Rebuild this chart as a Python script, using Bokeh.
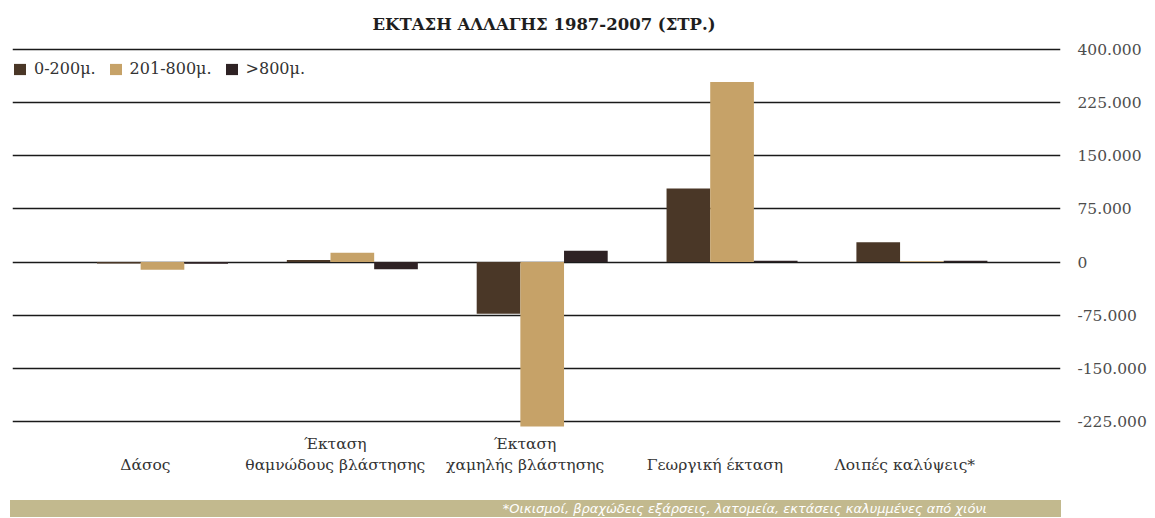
from bokeh.plotting import figure
from bokeh.models import ColumnDataSource, Range1d, FixedTicker, Legend, LegendItem, Div
from bokeh.layouts import column
from bokeh.transform import dodge
from bokeh.embed import file_html
from bokeh.resources import INLINE

# ---------------- data ----------------
categories = ["\nΔάσος", "Έκταση\nθαμνώδους βλάστησης", "Έκταση\nχαμηλής βλάστησης",
              "\nΓεωργική έκταση", "\nΛοιπές καλύψεις*"]
series_names = ["0-200μ.", "201-800μ.", ">800μ."]
v_0_200 = [-2000, 3000, -73000, 104000, 28000]
v_201_800 = [-11000, 13000, -232000, 254000, 1000]
v_800 = [-2500, -10000, 16000, 2000, 2000]
y_ticks = [300000, 225000, 150000, 75000, 0, -75000, -150000, -225000]
y_labels = ["400.000", "225.000", "150.000", "75.000", "0", "-75.000", "-150.000", "-225.000"]
title_text = "ΕΚΤΑΣΗ ΑΛΛΑΓΗΣ 1987-2007 (ΣΤΡ.)"
footnote = "*Οικισμοί, βραχώδεις εξάρσεις, λατομεία, εκτάσεις καλυμμένες από χιόνι"

colors = ["#4a3727", "#c6a268", "#2e2224"]
SERIF = "DejaVu Serif"

xi = list(range(len(categories)))
src = ColumnDataSource(dict(x=xi, a=v_0_200, b=v_201_800, c=v_800))

p = figure(width=1150, height=500, output_backend="svg", toolbar_location=None,
           x_range=Range1d(-0.79, 4.73), y_range=Range1d(-237700, 312700),
           y_axis_location="right",
           min_border_left=12, min_border_right=90, min_border_top=40, min_border_bottom=70)
p.outline_line_color = None
p.background_fill_color = "white"
p.border_fill_color = "white"

p.title.text = title_text
p.title.text_font = SERIF
p.title.text_font_style = "bold"
p.title.text_font_size = "16.5px"
p.title.text_color = "#1e1e1e"
p.title.align = "left"
p.title.offset = 360
p.title.standoff = 14

w = 0.23
r1 = p.vbar(x=dodge("x", -w, range=p.x_range), top="a", bottom=0, width=w, source=src,
            fill_color=colors[0], line_color=None)
r2 = p.vbar(x=dodge("x", 0, range=p.x_range), top="b", bottom=0, width=w, source=src,
            fill_color=colors[1], line_color=None)
r3 = p.vbar(x=dodge("x", w, range=p.x_range), top="c", bottom=0, width=w, source=src,
            fill_color=colors[2], line_color=None)

# y axis (right)
yax = p.yaxis[0]
yax.ticker = FixedTicker(ticks=y_ticks)
yax.major_label_overrides = dict(zip(y_ticks, y_labels))
yax.axis_line_color = None
yax.major_tick_line_color = None
yax.minor_tick_line_color = None
yax.major_label_standoff = 11
yax.major_label_text_font = SERIF
yax.major_label_text_font_size = "15.5px"
yax.major_label_text_color = "#4d4d4d"

p.ygrid.ticker = FixedTicker(ticks=y_ticks)
p.ygrid.grid_line_color = "#1a1a1a"
p.ygrid.grid_line_width = 1.6
p.xgrid.grid_line_color = None

# x axis (categories)
xt = [i - 0.09 for i in xi]
xax = p.xaxis[0]
xax.ticker = FixedTicker(ticks=xt)
xax.major_label_overrides = dict(zip(xt, categories))
xax.axis_line_color = None
xax.major_tick_line_color = None
xax.minor_tick_line_color = None
xax.major_label_standoff = -2
xax.major_label_text_font = SERIF
xax.major_label_text_font_size = "15.5px"
xax.major_label_text_color = "#333333"

legend = Legend(items=[LegendItem(label=series_names[0], renderers=[r1]),
                       LegendItem(label=series_names[1], renderers=[r2]),
                       LegendItem(label=series_names[2], renderers=[r3])],
                orientation="horizontal", location=(0, 352))
legend.glyph_width = 15
legend.glyph_height = 14
legend.label_standoff = 7
legend.spacing = 12
legend.padding = 0
legend.margin = 0
legend.border_line_color = None
legend.background_fill_alpha = 0
legend.label_text_font = SERIF
legend.label_text_font_size = "16px"
legend.label_text_color = "#333333"
p.add_layout(legend)

foot = Div(text=footnote, width=1051, height=17, margin=(0, 0, 0, 10),
           styles={"background-color": "#c2b98e", "color": "white", "font-style": "italic",
                   "font-family": "DejaVu Sans", "font-size": "13px", "text-align": "right",
                   "padding-right": "74px", "line-height": "17px", "box-sizing": "border-box",
                   "white-space": "nowrap", "overflow": "hidden"})

layout = column(p, foot, spacing=0)
open("out.html", "w").write(file_html(layout, INLINE))
